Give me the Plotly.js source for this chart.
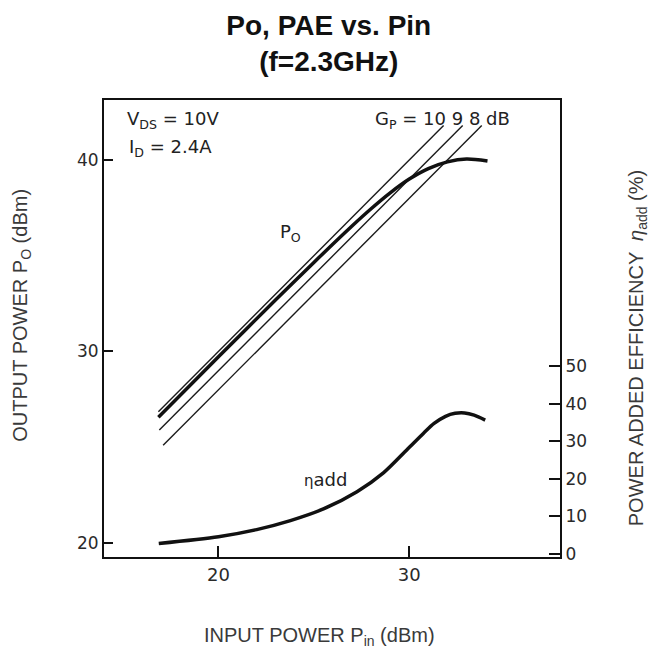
<!DOCTYPE html>
<html>
<head>
<meta charset="utf-8">
<script src="https://cdn.plot.ly/plotly-3.0.1.min.js"></script>
<style>html,body{margin:0;padding:0;background:#fff;}#chart{width:651px;height:648px;}</style>
</head>
<body>
<div id="chart"></div>
<script>
// Output power curve (Pin dBm -> Po dBm)
const pinPo = [16.85, 20, 23, 25, 27, 28, 29, 30, 31, 32, 33, 34.1];
const po    = [26.57, 29.72, 32.7, 34.65, 36.55, 37.45, 38.28, 39.0, 39.55, 39.9, 40.05, 39.95];

// Constant power-gain reference lines (Gp = 10, 9, 8 dB)
const gp10Pin = [16.85, 31.8];
const gp10Po  = [26.85, 41.8];
const gp9Pin  = [16.9, 32.8];
const gp9Po   = [25.9, 41.8];
const gp8Pin  = [17.1, 33.8];
const gp8Po   = [25.1, 41.8];

// Power added efficiency curve (Pin dBm -> %)
const pinPae = [16.87, 20, 22, 23.77, 25.5, 27.26, 28.66, 29.88, 30.75, 31.3, 31.9, 32.4, 32.9, 33.4, 33.98];
const pae    = [2.8, 4.6, 6.5, 8.9, 12.0, 16.6, 21.7, 27.8, 32.2, 34.8, 36.7, 37.5, 37.6, 37.0, 35.7];

// Tick values
const xTicks  = [20, 30];
const yTicks  = [20, 30, 40];
const y2Ticks = [0, 10, 20, 30, 40, 50];

const ink = '#111';
const thin = {color: '#1a1a1a', width: 1.4};

const traces = [
  {x: gp10Pin, y: gp10Po, mode: 'lines', line: thin, hoverinfo: 'skip'},
  {x: gp9Pin,  y: gp9Po,  mode: 'lines', line: thin, hoverinfo: 'skip'},
  {x: gp8Pin,  y: gp8Po,  mode: 'lines', line: thin, hoverinfo: 'skip'},
  {x: pinPo, y: po, mode: 'lines', line: {color: ink, width: 3.5, shape: 'spline', smoothing: 0.8}},
  {x: pinPae, y: pae, yaxis: 'y2', mode: 'lines', line: {color: ink, width: 3.5, shape: 'spline', smoothing: 0.8}}
];

const tickFont = (s) => ({family: 'DejaVu Sans, Arial, sans-serif', size: s, color: '#2a2a2a'});
const annFont = {family: 'DejaVu Sans, Arial, sans-serif', size: 18, color: '#222'};
const titleFont = {family: 'Liberation Sans, Arial, sans-serif', size: 20, color: '#3a3a3a'};

const layout = {
  width: 651, height: 648,
  margin: {l: 104, r: 91, t: 100, b: 91},
  paper_bgcolor: '#fff', plot_bgcolor: '#fff',
  showlegend: false,
  title: {
    text: '<b>Po, PAE vs. Pin</b><br><b>(f=2.3GHz)</b>',
    font: {family: 'Liberation Sans, Arial, sans-serif', size: 28, color: '#111'},
    x: 0.505, xref: 'container', xanchor: 'center',
    y: 0.946, yref: 'container', yanchor: 'top'
  },
  xaxis: {
    range: [14, 37.9], tickvals: xTicks, ticks: 'inside', ticklen: 11, tickwidth: 2, tickcolor: ink,
    showline: true, linewidth: 2, linecolor: ink, mirror: true,
    showgrid: false, zeroline: false, tickfont: tickFont(18), fixedrange: true
  },
  yaxis: {
    range: [19.27, 43.13], tickvals: yTicks, ticks: 'inside', ticklen: 9, tickwidth: 2, tickcolor: ink,
    showline: true, linewidth: 2, linecolor: ink,
    showgrid: false, zeroline: false, tickfont: tickFont(17), fixedrange: true
  },
  yaxis2: {
    overlaying: 'y', side: 'right',
    range: [-0.8, 121], tickvals: y2Ticks, ticks: 'inside', ticklen: 11, tickwidth: 2, tickcolor: ink,
    showline: true, linewidth: 2, linecolor: ink,
    showgrid: false, zeroline: false, tickfont: tickFont(17), fixedrange: true
  },
  annotations: [
    {x: 15.1, y: 42.11, xref: 'x', yref: 'y', xanchor: 'left', yanchor: 'middle', showarrow: false,
     text: 'V<sub>DS</sub> = 10V', font: annFont},
    {x: 15.2, y: 40.65, xref: 'x', yref: 'y', xanchor: 'left', yanchor: 'middle', showarrow: false,
     text: 'I<sub>D</sub> = 2.4A', font: annFont},
    {x: 28.1, y: 42.11, xref: 'x', yref: 'y', xanchor: 'left', yanchor: 'middle', showarrow: false,
     text: 'G<sub>P</sub> = 10 9 8 dB', font: annFont},
    {x: 23.1, y: 36.2, xref: 'x', yref: 'y', xanchor: 'left', yanchor: 'middle', showarrow: false,
     text: 'P<sub>O</sub>', font: annFont},
    {x: 24.4, y: 23.3, xref: 'x', yref: 'y', xanchor: 'left', yanchor: 'middle', showarrow: false,
     text: '<span style="font-size:15px">η</span>add', font: annFont},
    {x: -0.18, y: 0.53, xref: 'paper', yref: 'paper', xanchor: 'center', yanchor: 'middle', showarrow: false,
     textangle: -90, text: 'OUTPUT POWER P<sub>O</sub> (dBm)', font: titleFont},
    {x: 1.169, y: 0.457, xref: 'paper', yref: 'paper', xanchor: 'center', yanchor: 'middle', showarrow: false,
     textangle: -90, text: 'POWER ADDED EFFICIENCY  <i>η</i><sub>add</sub> (%)', font: titleFont},
    {x: 0.4715, y: -0.173, xref: 'paper', yref: 'paper', xanchor: 'center', yanchor: 'middle', showarrow: false,
     text: 'INPUT POWER P<sub>in</sub> (dBm)', font: titleFont}
  ]
};

Plotly.newPlot('chart', traces, layout, {displayModeBar: false, staticPlot: true});
</script>
</body>
</html>
